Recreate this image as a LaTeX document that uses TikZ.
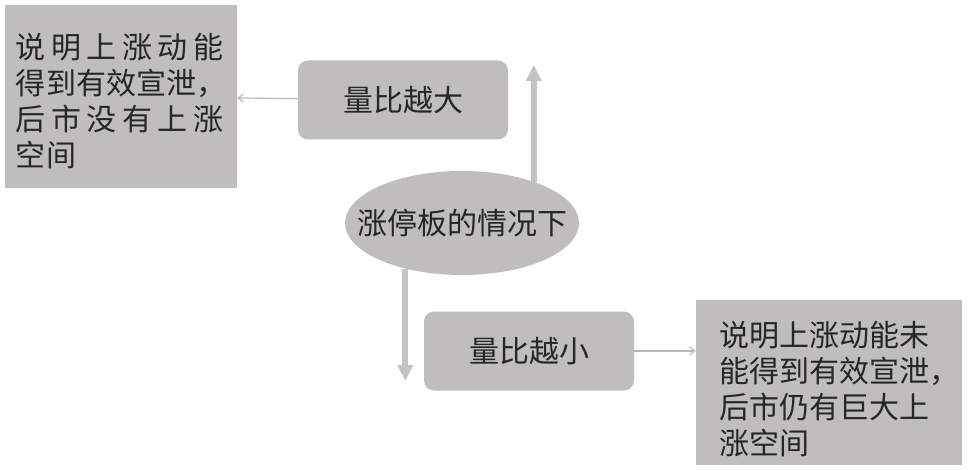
\documentclass[tikz,border=0pt]{standalone}
\usepackage{fontspec}
\newfontfamily\cjk{Noto Sans CJK SC}
\usepackage{xcolor}
\definecolor{BoxGray}{HTML}{BFBDBE}
\definecolor{ArrowGray}{HTML}{C4C3C3}
\definecolor{LinkGray}{HTML}{B8B8B8}
\usetikzlibrary{arrows.meta,positioning,shapes.geometric}

\begin{document}
\begin{tikzpicture}[
  x=0.5pt,y=-0.5pt,
  every node/.style={font=\cjk\fontsize{15pt}{18pt}\selectfont,text=black!85},
  note/.style={fill=BoxGray,align=left,inner sep=0pt},
  cond/.style={fill=BoxGray,rounded corners=5pt,minimum width=105pt,minimum height=39.5pt},
  root/.style={ellipse,fill=BoxGray,inner sep=0pt,minimum width=117pt,minimum height=52pt},
  arr/.style={-{Triangle[width=7.5pt,length=8pt]},line width=3pt,color=ArrowGray},
  lnk/.style={-{Straight Barb[length=2.5pt,width=4pt]},line width=0.6pt,color=LinkGray}
]
\fill[white] (0,0) rectangle (968,470);
\node[note,minimum width=116pt,minimum height=91.5pt] (big) at (121,96.5)
  {\rule{0pt}{17pt}\makebox[103.5pt][s]{说\hfil 明\hfil 上\hfil 涨\hfil 动\hfil 能}\\
   得到有效宣泄，\\
   \makebox[103.5pt][s]{后\hfil 市\hfil 没\hfil 有\hfil 上\hfil 涨}\\
   空间};
\node[cond] (up) at (403,100) {量比越大};
\node[root] (lim) at (462,223) {\makebox[60pt][c]{涨停板的情况下}};
\node[cond] (low) at (529,351) {量比越小};
\node[note,minimum width=133pt,minimum height=82.5pt] (small) at (829,382.5)
  {\rule{0pt}{19pt}说明上涨动能未\\
   能得到有效宣泄\makebox[5pt][l]{，}\\
   后市仍有巨大上\\
   涨空间};
\coordinate (uptip) at (533,65);
\coordinate (dntip) at (405,381);
\draw[arr] (lim.30) -- (lim.30 |- uptip);
\draw[arr] (lim.-141) -- (lim.-141 |- dntip);
\draw[lnk] (up) -- (big);
\draw[lnk] (low) -- (low -| small.west);
\end{tikzpicture}
\end{document}
